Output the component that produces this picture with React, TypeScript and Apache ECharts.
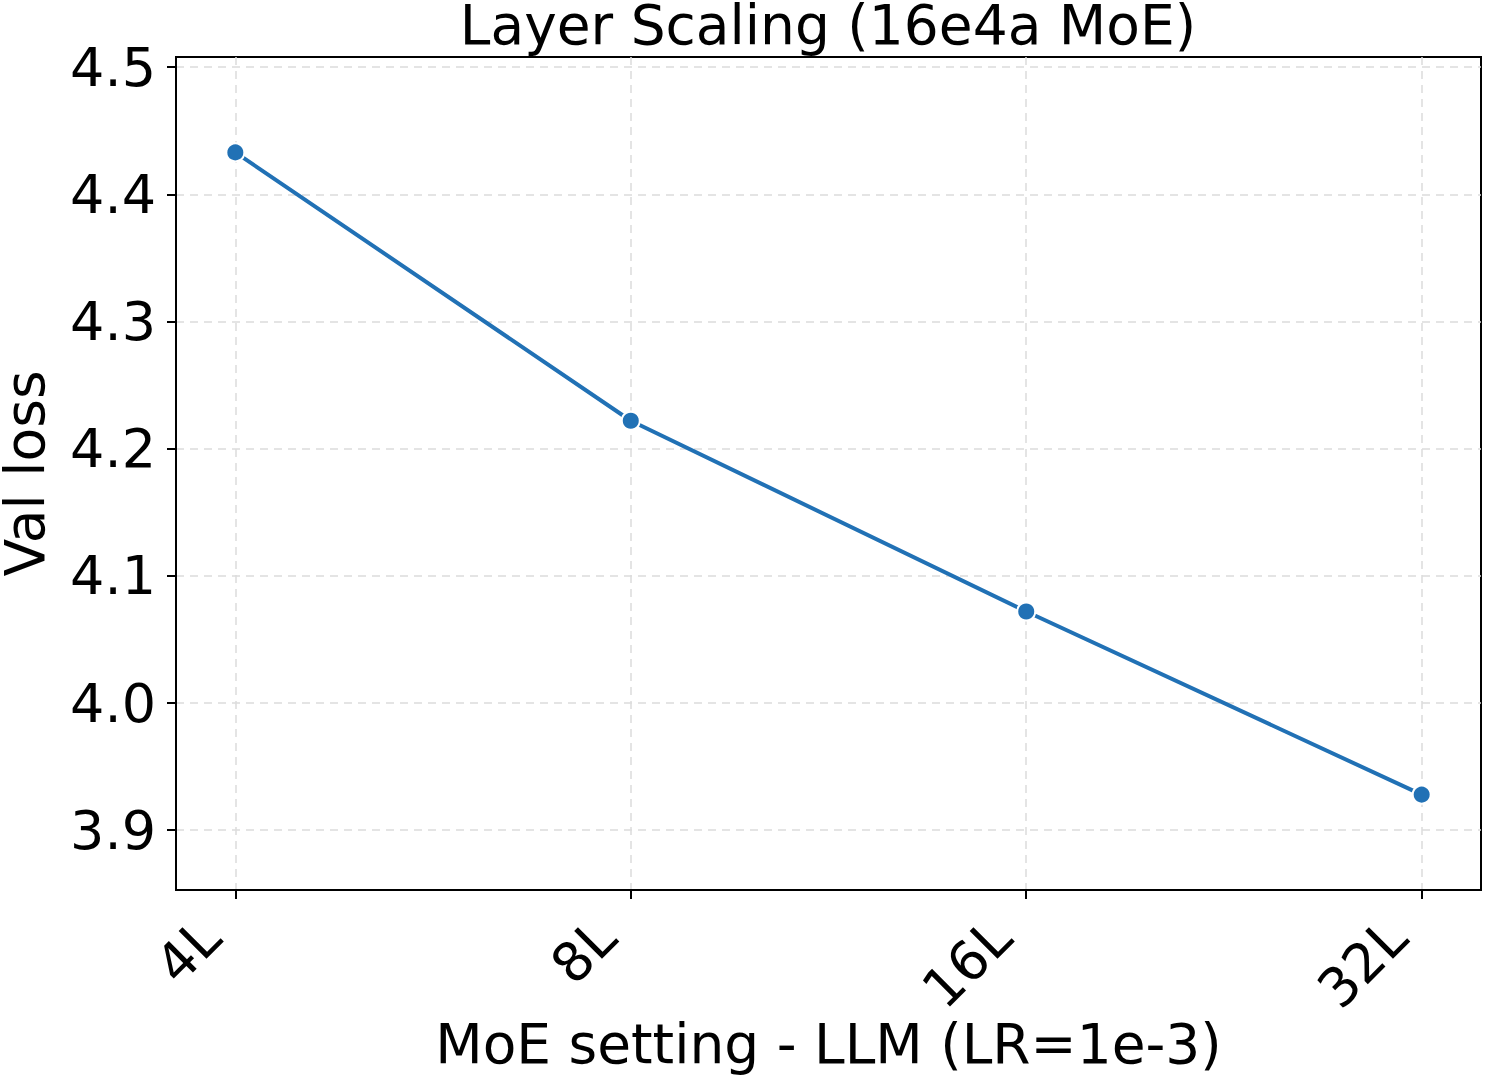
import React, { useEffect, useRef } from 'react';
import * as echarts from 'echarts';

// 数据
const categories = ['4L', '8L', '16L', '32L'];
const valLoss = [4.433, 4.222, 4.072, 3.928];
const yTicks = [3.9, 4.0, 4.1, 4.2, 4.3, 4.4, 4.5];
const xTicks = [0, 1, 2, 3];

const FONT = 'DejaVu Sans';
const BLUE = '#2171b5';

const App: React.FC = () => {
  const chartRef = useRef<HTMLDivElement>(null);

  useEffect(() => {
    document.body.style.margin = '0';
    if (!chartRef.current) return;
    const chart = echarts.init(chartRef.current, undefined, { renderer: 'svg' });

    const gridLine = { show: true, lineStyle: { color: '#dcdcdc', type: [8, 6] as any, width: 1.5 } };

    const option = {
      animation: false,
      backgroundColor: '#fff',
      title: {
        text: 'Layer Scaling (16e4a MoE)',
        left: 828,
        textAlign: 'center',
        top: 0,
        padding: 0,
        textStyle: { fontFamily: FONT, fontSize: 55, lineHeight: 50, fontWeight: 'normal', color: '#000' }
      },
      grid: {
        left: 176,
        right: 5,
        top: 57,
        bottom: 192,
        show: true,
        borderColor: '#000',
        borderWidth: 2,
        outerBoundsMode: 'none',
        containLabel: false
      },
      xAxis: {
        type: 'value',
        min: -0.15,
        max: 3.15,
        name: 'MoE setting - LLM (LR=1e-3)',
        nameLocation: 'middle',
        nameGap: 126,
        nameMoveOverlap: false,
        nameTextStyle: { fontFamily: FONT, fontSize: 55, color: '#000' },
        axisLine: { show: true, onZero: false, lineStyle: { color: '#000', width: 2 } },
        axisTick: { show: true, length: 9, lineStyle: { color: '#000', width: 2 }, customValues: xTicks },
        axisLabel: {
          rotate: 45,
          margin: 14,
          fontFamily: FONT,
          fontSize: 54,
          color: '#000',
          customValues: xTicks,
          // 末尾不换行空格让文字沿斜向略微左移
          formatter: (v: number) => (categories[Math.round(v)] ?? '') + '\u00a0\u00a0'
        },
        splitLine: gridLine
      },
      yAxis: {
        type: 'value',
        min: 3.853,
        max: 4.508,
        name: 'Val loss',
        nameLocation: 'middle',
        nameGap: 124,
        nameTextStyle: { fontFamily: FONT, fontSize: 55, color: '#000' },
        axisLine: { show: true, onZero: false, lineStyle: { color: '#000', width: 2 } },
        axisTick: { show: true, length: 9, lineStyle: { color: '#000', width: 2 }, customValues: yTicks },
        axisLabel: {
          margin: 20,
          fontFamily: FONT,
          fontSize: 54,
          color: '#000',
          customValues: yTicks,
          formatter: (v: number) => v.toFixed(1)
        },
        splitLine: gridLine
      },
      series: [
        {
          type: 'line',
          data: valLoss.map((v, i) => [i, v]),
          symbol: 'circle',
          symbolSize: 18,
          lineStyle: { color: BLUE, width: 4 },
          itemStyle: { color: BLUE, borderColor: '#fff', borderWidth: 2 },
          z: 5
        }
      ]
    };

    chart.setOption(option as any);
    return () => chart.dispose();
  }, []);

  return <div ref={chartRef} style={{ width: 1486, height: 1082 }} />;
};

export default App;
